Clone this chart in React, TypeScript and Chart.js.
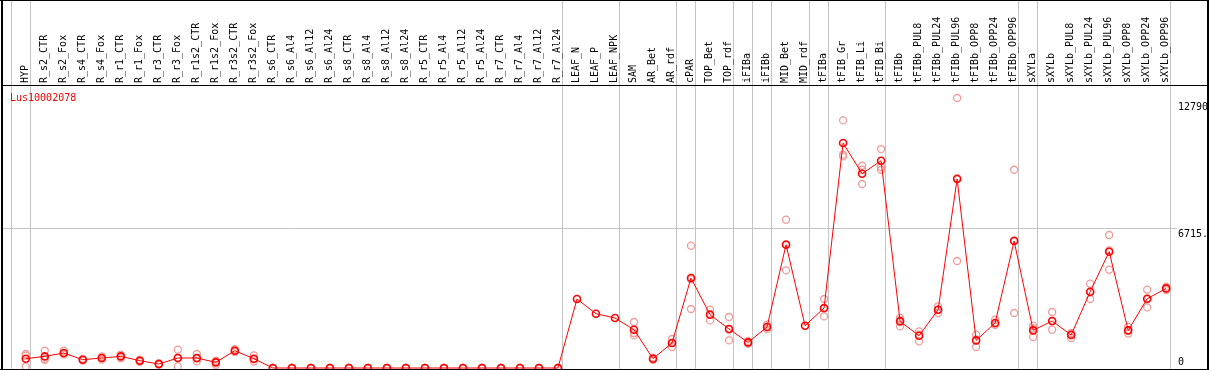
import React, { useEffect, useRef } from "react";
import { Chart, registerables } from "chart.js";

Chart.register(...registerables);

const geneName = "Lus10002078";

const categories = [
  "HYP", "R_s2_CTR", "R_s2_Fox", "R_s4_CTR", "R_s4_Fox", "R_r1_CTR", "R_r1_Fox", "R_r3_CTR", "R_r3_Fox",
  "R_r1s2_CTR", "R_r1s2_Fox", "R_r3s2_CTR", "R_r3s2_Fox", "R_s6_CTR", "R_s6_Al4", "R_s6_Al12", "R_s6_Al24",
  "R_s8_CTR", "R_s8_Al4", "R_s8_Al12", "R_s8_Al24", "R_r5_CTR", "R_r5_Al4", "R_r5_Al12", "R_r5_Al24",
  "R_r7_CTR", "R_r7_Al4", "R_r7_Al12", "R_r7_Al24", "LEAF_N", "LEAF_P", "LEAF_NPK", "SAM", "AR_Bet", "AR_rdf",
  "cPAR", "TOP_Bet", "TOP_rdf", "iFIBa", "iFIBb", "MID_Bet", "MID_rdf", "tFIBa", "tFIB_Gr", "tFIB_Li", "tFIB_Bi",
  "tFIBb", "tFIBb_PUL8", "tFIBb_PUL24", "tFIBb_PUL96", "tFIBb_OPP8", "tFIBb_OPP24", "tFIBb_OPP96",
  "sXYLa", "sXYLb", "sXYLb_PUL8", "sXYLb_PUL24", "sXYLb_PUL96", "sXYLb_OPP8", "sXYLb_OPP24", "sXYLb_OPP96",
];

const means = [
  446, 557, 719, 398, 480, 557, 350, 190, 480, 480, 270, 830, 446, 0,
  0, 0, 0, 0, 0, 0, 0, 0, 0, 0, 0, 0, 0, 0, 0,
  3309, 2604, 2398, 1837, 446, 1199, 4316, 2556, 1870, 1228, 1966, 5913, 2029, 2878,
  10791, 9319, 9942, 2235, 1549, 2796, 9064, 1324, 2158, 6091,
  1805, 2254, 1583, 3659, 5578, 1805, 3324, 3818,
];

const replicateA = [
  671, 830, 830, 440, 560, 640, 400, 230, 878, 671, 350, 900, 604, 0,
  0, 0, 0, 0, 0, 0, 0, 0, 0, 0, 0, 0, 0, 0, 0,
  null, null, null, 2206, 500, 1391, 5866, 2796, 2446, 1300, 2080, 7112, null, 3309,
  11875, 9702, 10503, 2398, 1755, 2956, 12950, 1597, 2316, 9510,
  2029, 2686, 1679, 4043, 6379, 1970, 3755, 3900,
];

const replicateB = [
  590, 446, 671, 398, 480, 560, 350, 190, 485, 451, 300, 830, 420, 0,
  0, 0, 0, 0, 0, 0, 0, 0, 0, 0, 0, 0, 0, 0, 0,
  null, null, null, 1679, 446, 1199, 4252, 2590, 1840, 1228, 1966, 5946, null, 2850,
  10230, 9510, 9640, 2300, 1600, 2796, 9110, 1370, 2080, 6125,
  1900, 2240, 1630, 3625, 5640, 1800, 3310, 3818,
];

const replicateC = [
  77, 395, 656, 356, 400, 470, 300, 150, 77, 318, 158, 760, 314, 0,
  0, 0, 0, 0, 0, 0, 0, 0, 0, 0, 0, 0, 0, 0, 0,
  null, null, null, 1564, 390, 1007, 2830, 2283, 1324, 1160, 1850, 4681, null, 2475,
  10148, 8825, 9510, 1995, 1276, 2638, 5132, 1007, 2077, 2638,
  1487, 1837, 1439, 3309, 4714, 1650, 2907, 3740,
];

const yTickValues = [0, 6715, 12790];
const yTickLabels = ["0", "6715.", "12790"];

// group separators drawn just after these category indices
const separatorsAfter = [-1, 0, 28, 31, 34, 35, 37, 38, 39, 41, 42, 45, 52, 53, 60];

const W = 1209;
const H = 370;
const FONT = "10px 'DejaVu Sans Mono', 'Liberation Mono', monospace";

const toPoints = (arr: (number | null)[]) => arr.map((v, i) => ({ x: i, y: v }));

const decorPlugin = {
  id: "decor",
  beforeDatasetsDraw(chart: any) {
    const { ctx, chartArea, scales } = chart;
    const xs = scales.x;
    const ys = scales.y;
    ctx.save();
    // separators
    ctx.strokeStyle = "#c4c4c4";
    ctx.lineWidth = 1;
    separatorsAfter.forEach((i) => {
      const px = Math.round(xs.getPixelForValue(i + 0.22)) + 0.5;
      ctx.beginPath();
      ctx.moveTo(px, 0);
      ctx.lineTo(px, chartArea.bottom + 1);
      ctx.stroke();
    });
    // horizontal mid grid line
    const gy = Math.round(ys.getPixelForValue(yTickValues[1])) + 0.5;
    ctx.beginPath();
    ctx.moveTo(chartArea.left, gy);
    ctx.lineTo(chartArea.right + 7, gy);
    ctx.stroke();

    // header labels
    ctx.fillStyle = "#000";
    ctx.font = FONT;
    categories.forEach((c, i) => {
      const px = xs.getPixelForValue(i);
      ctx.save();
      ctx.translate(px - 0.5, 83);
      ctx.rotate(-Math.PI / 2);
      ctx.textAlign = "left";
      ctx.textBaseline = "middle";
      ctx.fillText(c, 0, 0);
      ctx.restore();
    });

    // gene name
    ctx.fillStyle = "#ff0000";
    ctx.textAlign = "left";
    ctx.textBaseline = "alphabetic";
    ctx.fillText(geneName, 10, 101);

    // right-hand tick labels
    ctx.fillStyle = "#000";
    yTickValues.forEach((v, k) => {
      const py = ys.getPixelForValue(v);
      const base = py + 9 > chartArea.bottom ? chartArea.bottom - 3 : py + 9;
      ctx.fillText(yTickLabels[k], chartArea.right + 8, base);
    });
    ctx.restore();
  },
  afterDraw(chart: any) {
    const { ctx, chartArea } = chart;
    ctx.save();
    ctx.fillStyle = "#000";
    ctx.fillRect(0, 0, W, 1); // top
    ctx.fillRect(2, 85, W - 2, 1); // header divider
    ctx.fillRect(1, 0, 2, H); // left
    ctx.fillRect(W - 2, 0, 2, H); // right
    ctx.fillRect(0, chartArea.bottom + 1, W, 2); // bottom
    ctx.restore();
  },
};

export default function App() {
  const canvasRef = useRef<HTMLCanvasElement | null>(null);

  useEffect(() => {
    if (!canvasRef.current) return;
    const repStyle = {
      type: "line" as const,
      showLine: false,
      pointStyle: "circle",
      pointRadius: 3.5,
      pointBorderWidth: 1.3,
      pointBorderColor: "#f09a9a",
      pointBackgroundColor: "rgba(0,0,0,0)",
      borderColor: "#f09a9a",
      clip: false as any,
      order: 2,
    };
    const chart = new Chart(canvasRef.current, {
      type: "line",
      data: {
        datasets: [
          { ...repStyle, label: "rep A", data: toPoints(replicateA) },
          { ...repStyle, label: "rep B", data: toPoints(replicateB) },
          { ...repStyle, label: "rep C", data: toPoints(replicateC) },
          {
            label: geneName,
            data: toPoints(means),
            borderColor: "#ff0000",
            borderWidth: 1,
            tension: 0,
            pointStyle: "circle",
            pointRadius: 3.5,
            pointBorderWidth: 1.6,
            pointBorderColor: "#ff0000",
            pointBackgroundColor: "rgba(0,0,0,0)",
            clip: false as any,
            order: 0,
          },
        ],
      },
      options: {
        responsive: false,
        animation: false,
        events: [],
        layout: { autoPadding: false, padding: { left: 2, right: 39, top: 86, bottom: 2 } },
        scales: {
          x: { type: "linear", display: false, min: -1.25, max: 60.2 },
          y: { type: "linear", display: false, min: 0, max: 13526 },
        },
        plugins: {
          legend: { display: false },
          tooltip: { enabled: false },
        },
      },
      plugins: [decorPlugin],
    });
    return () => chart.destroy();
  }, []);

  return (
    <div style={{ position: "absolute", left: 0, top: 0, width: W, height: H, background: "#fff" }}>
      <canvas ref={canvasRef} width={W} height={H} style={{ width: W, height: H, display: "block" }} />
    </div>
  );
}
